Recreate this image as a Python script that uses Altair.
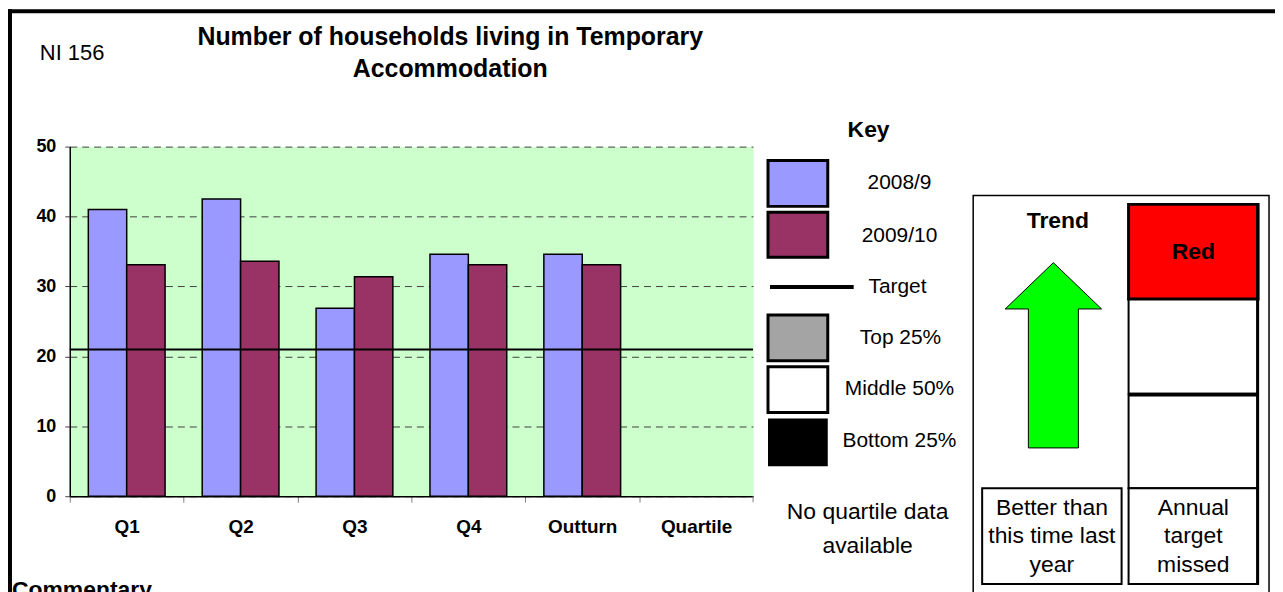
import altair as alt
import pandas as pd

# ---------------- data ----------------
categories = ["Q1", "Q2", "Q3", "Q4", "Outturn", "Quartile"]
series_names = ["2008/9", "2009/10"]
values_2008_9 = [41.0, 42.5, 26.9, 34.6, 34.6]
values_2009_10 = [33.1, 33.6, 31.4, 33.1, 33.1]
target_value = 21.0
y_tick_values = [0, 10, 20, 30, 40, 50]
series_colors = ["#9999FF", "#993366"]

rows = []
for cat, v in zip(categories, values_2008_9):
    rows.append({"category": cat, "series": series_names[0], "value": v})
for cat, v in zip(categories, values_2009_10):
    rows.append({"category": cat, "series": series_names[1], "value": v})
df = pd.DataFrame(rows)

# ---------------- layout helpers ----------------
FONT = "Liberation Sans"
OX, OY = 70, 146          # page position of plot origin
W, H = 686, 351           # plot area
TOTAL_W, TOTAL_H = 1272, 584
STEP = W / len(categories)

one = pd.DataFrame({"k": [0]})


def rect(x1, y1, x2, y2, fill, stroke="black", sw=2):
    return alt.Chart(one).mark_rect(fill=fill, stroke=stroke, strokeWidth=sw).encode(
        x=alt.value(x1 - OX), x2=alt.value(x2 - OX),
        y=alt.value(y1 - OY), y2=alt.value(y2 - OY))


def text(s, x, y, size=21, bold=False, align="center", baseline="middle"):
    return alt.Chart(one).mark_text(
        font=FONT, fontSize=size, fontWeight="bold" if bold else "normal",
        align=align, baseline=baseline, color="black").encode(
        x=alt.value(x - OX), y=alt.value(y - OY), text=alt.value(s))


# ---------------- main bar chart ----------------
x_axis = alt.Axis(title=None, labelAngle=0, labelFont=FONT, labelFontSize=19,
                  labelFontWeight="bold", labelColor="black", labelPadding=15,
                  tickOffset=-STEP / 2, labelOffset=STEP / 2, tickSize=6,
                  tickColor="#808080", domainColor="black", domainWidth=1.5, grid=False)
y_axis = alt.Axis(title=None, values=y_tick_values, labelFont=FONT, labelFontSize=18,
                  labelFontWeight="bold", labelColor="black", labelPadding=9,
                  tickSize=5, tickColor="#404040", domainColor="black", domainWidth=1.5,
                  grid=True, gridColor="#404040", gridDash=[7, 5], gridWidth=1)

bars = alt.Chart(df).mark_bar(stroke="black", strokeWidth=1.5).encode(
    x=alt.X("category:N", sort=categories,
            scale=alt.Scale(domain=categories, paddingInner=0.326, paddingOuter=0.163),
            axis=x_axis),
    xOffset=alt.XOffset("series:N", sort=series_names,
                        scale=alt.Scale(domain=series_names, paddingInner=0, paddingOuter=0)),
    y=alt.Y("value:Q", scale=alt.Scale(domain=[0, 50], nice=False), axis=y_axis),
    color=alt.Color("series:N", scale=alt.Scale(domain=series_names, range=series_colors),
                    legend=None),
)

target = alt.Chart(one).mark_rule(color="black", strokeWidth=2).encode(
    y=alt.datum(target_value))

last_tick = alt.Chart(one).mark_rule(color="#808080", strokeWidth=1).encode(
    x=alt.value(W), y=alt.value(H), y2=alt.value(H + 6))

layers = [bars, target, last_tick]

# ---------------- frame & titles ----------------
layers += [
    rect(8, 8, 1280, 12, "black", sw=0),
    rect(8, 8, 12, 600, "black", sw=0),
    text("NI 156", 40, 52, size=22, align="left"),
    text("Number of households living in Temporary", 452, 36, size=25, bold=True),
    text("Accommodation", 452, 68, size=25, bold=True),
    text("Commentary", 12, 598, size=23, bold=True, align="left", baseline="alphabetic"),
]

# ---------------- key ----------------
layers += [
    text("Key", 872, 129, size=23, bold=True),
    rect(771, 160, 831, 206, series_colors[0], sw=3),
    text("2008/9", 903, 183),
    rect(771, 212, 831, 257, series_colors[1], sw=3),
    text("2009/10", 903, 236),
    rect(773, 285, 857, 289, "black", sw=0),
    text("Target", 901, 287),
    rect(771, 315, 831, 361, "#A4A4A4", sw=3),
    text("Top 25%", 904, 338),
    rect(771, 367, 831, 413, "white", sw=3),
    text("Middle 50%", 903, 389),
    rect(771, 419, 831, 467, "black", sw=0),
    text("Bottom 25%", 903, 442),
    text("No quartile data", 871, 513, size=23),
    text("available", 871, 547, size=23),
]

# ---------------- trend / status panel ----------------
arrow_path = "M0,-1 L0.52,-0.5 L0.27,-0.5 L0.27,1 L-0.27,1 L-0.27,-0.5 L-0.52,-0.5 Z"
arrow = alt.Chart(one).mark_point(shape=arrow_path, filled=True, fill="#00FF00",
                                  stroke="black", strokeWidth=1, opacity=1).encode(
    x=alt.value(1057.5 - OX), y=alt.value(355.5 - OY), size=alt.value(186 * 186))

layers += [
    rect(977, 195, 1274, 620, "white", sw=1.5),
    text("Trend", 1062, 221, size=23, bold=True),
    arrow,
    rect(986, 489, 1126, 585, "white", sw=2),
    text("Better than", 1056, 509, size=23),
    text("this time last", 1056, 537, size=23),
    text("year", 1056, 566, size=23),
    rect(1133, 299, 1263, 394, "white", sw=2),
    rect(1133, 395, 1263, 489, "white", sw=2),
    rect(1133, 489, 1263, 585, "white", sw=2),
    rect(1133, 204, 1263, 299, "#FF0000", sw=3),
    rect(1133, 393, 1263, 397, "black", sw=0),
    rect(1261, 204, 1264, 585, "black", sw=0),
    text("Red", 1198, 252, size=23, bold=True),
    text("Annual", 1198, 509, size=23),
    text("target", 1198, 537, size=23),
    text("missed", 1198, 566, size=23),
]

chart = alt.layer(*layers).properties(
    width=W, height=H,
    padding={"left": OX - 8, "top": OY - 8,
             "right": TOTAL_W - (OX - 8) - W, "bottom": TOTAL_H - (OY - 8) - H},
    autosize=alt.AutoSizeParams(type="none"),
    background="white",
).configure_view(fill="#CCFFCC", stroke="transparent")

chart.save("out.html", embed_options={"renderer": "svg", "actions": False})
